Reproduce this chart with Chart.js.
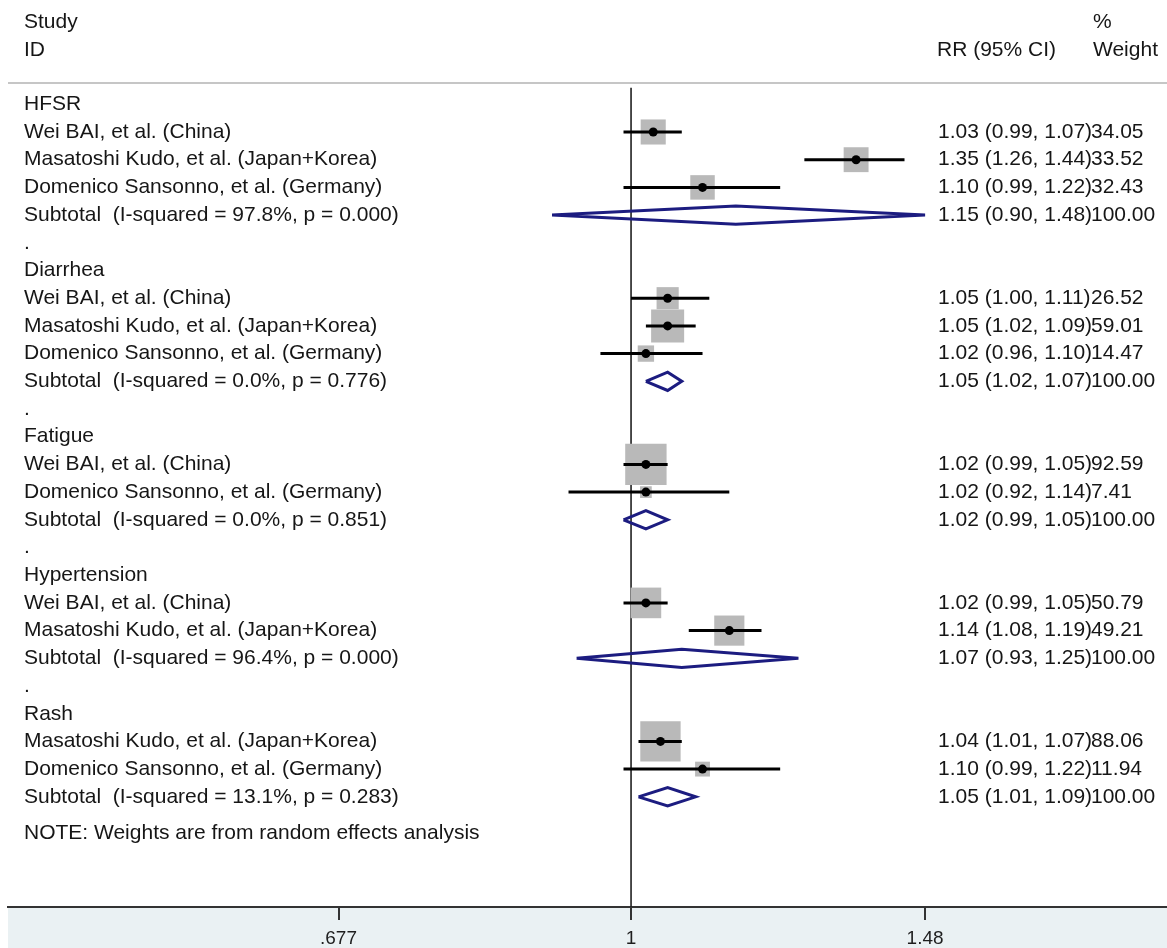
<!DOCTYPE html>
<html>
<head>
<meta charset="utf-8">
<script src="https://cdn.jsdelivr.net/npm/chart.js@4.4.0/dist/chart.umd.min.js"></script>
<style>
  body { margin: 0; background: #fff; }
  #wrap { width: 1167px; height: 948px; }
</style>
</head>
<body>
<div id="wrap"><canvas id="forest" width="1167" height="948"></canvas></div>
<script>
// rows of the forest plot, top to bottom
const studyLabels = [
    'HFSR',
    'Wei BAI, et al. (China)',
    'Masatoshi Kudo, et al. (Japan+Korea)',
    'Domenico Sansonno, et al. (Germany)',
    'Subtotal  (I-squared = 97.8%, p = 0.000)',
    '.',
    'Diarrhea',
    'Wei BAI, et al. (China)',
    'Masatoshi Kudo, et al. (Japan+Korea)',
    'Domenico Sansonno, et al. (Germany)',
    'Subtotal  (I-squared = 0.0%, p = 0.776)',
    '.',
    'Fatigue',
    'Wei BAI, et al. (China)',
    'Domenico Sansonno, et al. (Germany)',
    'Subtotal  (I-squared = 0.0%, p = 0.851)',
    '.',
    'Hypertension',
    'Wei BAI, et al. (China)',
    'Masatoshi Kudo, et al. (Japan+Korea)',
    'Subtotal  (I-squared = 96.4%, p = 0.000)',
    '.',
    'Rash',
    'Masatoshi Kudo, et al. (Japan+Korea)',
    'Domenico Sansonno, et al. (Germany)',
    'Subtotal  (I-squared = 13.1%, p = 0.283)'
];
// s = study, t = subtotal, g = group heading, b = blank
const rowKind = ['g','s','s','s','t','b','g','s','s','s','t','b','g','s','s','t','b','g','s','s','t','b','g','s','s','t'];
const rr     = [null,1.03,1.35,1.10,1.15,null,null,1.05,1.05,1.02,1.05,null,null,1.02,1.02,1.02,null,null,1.02,1.14,1.07,null,null,1.04,1.10,1.05];
const ciLow  = [null,0.99,1.26,0.99,0.90,null,null,1.00,1.02,0.96,1.02,null,null,0.99,0.92,0.99,null,null,0.99,1.08,0.93,null,null,1.01,0.99,1.01];
const ciHigh = [null,1.07,1.44,1.22,1.48,null,null,1.11,1.09,1.10,1.07,null,null,1.05,1.14,1.05,null,null,1.05,1.19,1.25,null,null,1.07,1.22,1.09];
const weights = [null,34.05,33.52,32.43,100,null,null,26.52,59.01,14.47,100,null,null,92.59,7.41,100,null,null,50.79,49.21,100,null,null,88.06,11.94,100];

const tickValues = [0.677, 1, 1.48];
const tickLabels = ['.677', '1', '1.48'];

const noteText = 'NOTE: Weights are from random effects analysis';

// scale ranges (rows on y, log RR on x)
const xMin = 0.4357, xMax = 2.0435;
const yMin = -3.765, yMax = 28.978;

const FONT = '"Liberation Sans", Arial, sans-serif';
const TEXT = '#161616';
const NAVY = '#1c1c80';

const studyIdx = rowKind.map((k, i) => k === 's' ? i : -1).filter(i => i >= 0);
const subIdx = rowKind.map((k, i) => k === 't' ? i : -1).filter(i => i >= 0);

// CI segments, gaps in between
const ciData = [];
studyIdx.forEach(i => {
    ciData.push({x: ciLow[i], y: i}, {x: ciHigh[i], y: i}, {x: NaN, y: NaN});
});

// subtotal diamonds
const diamondData = [];
subIdx.forEach(i => {
    const h = 0.33;
    diamondData.push(
        {x: ciLow[i], y: i}, {x: rr[i], y: i - h},
        {x: ciHigh[i], y: i}, {x: rr[i], y: i + h},
        {x: ciLow[i], y: i}, {x: NaN, y: NaN}
    );
});

const pointData = studyIdx.map(i => ({x: rr[i], y: i}));
const boxRadius = studyIdx.map(i => 3.04 * Math.sqrt(weights[i]));

const fmt = v => v.toFixed(2);

const forestText = {
    id: 'forestText',
    beforeDraw(chart) {
        const {ctx, chartArea} = chart;
        const ys = chart.scales.y;
        ctx.save();
        // axis strip background
        ctx.fillStyle = '#eaf1f3';
        ctx.fillRect(8, chartArea.bottom, chart.width - 8, chart.height - chartArea.bottom);
        // header separator
        ctx.strokeStyle = '#c6c6c6';
        ctx.lineWidth = 2;
        ctx.beginPath();
        ctx.moveTo(8, ys.getPixelForValue(-0.77));
        ctx.lineTo(chart.width, ys.getPixelForValue(-0.77));
        ctx.stroke();
        ctx.restore();
    },
    afterDraw(chart) {
        const {ctx} = chart;
        const ys = chart.scales.y;
        ctx.save();
        ctx.fillStyle = TEXT;
        ctx.textBaseline = 'middle';
        ctx.font = '21px ' + FONT;
        ctx.textAlign = 'left';
        // header
        ctx.fillText('Study', 24, ys.getPixelForValue(-2.95));
        ctx.fillText('ID', 24, ys.getPixelForValue(-1.95));
        ctx.fillText('RR (95% CI)', 937, ys.getPixelForValue(-1.95));
        ctx.fillText('%', 1093, ys.getPixelForValue(-2.95));
        ctx.fillText('Weight', 1093, ys.getPixelForValue(-1.95));
        // rows
        studyLabels.forEach((lab, i) => {
            const y = ys.getPixelForValue(i);
            ctx.fillText(lab, 24, y);
            if (rr[i] !== null) {
                ctx.fillText(fmt(rr[i]) + ' (' + fmt(ciLow[i]) + ', ' + fmt(ciHigh[i]) + ')', 938, y);
                ctx.fillText(fmt(weights[i]), 1091, y);
            }
        });
        ctx.fillText(noteText, 24, ys.getPixelForValue(26.3));
        ctx.restore();
    }
};

new Chart(document.getElementById('forest'), {
    type: 'scatter',
    data: {
        datasets: [
            {
                // reference line at RR = 1
                data: [{x: 1, y: -0.6}, {x: 1, y: yMax}],
                showLine: true,
                borderColor: '#222',
                borderWidth: 1.6,
                pointRadius: 0,
                order: 10
            },
            {
                // weight boxes
                data: pointData,
                pointStyle: 'rect',
                pointRadius: boxRadius,
                backgroundColor: '#b9b9b9',
                borderColor: '#b9b9b9',
                borderWidth: 0,
                order: 8
            },
            {
                data: ciData,
                showLine: true,
                spanGaps: false,
                borderColor: '#000',
                borderWidth: 3,
                pointRadius: 0,
                order: 6
            },
            {
                data: pointData,
                pointStyle: 'circle',
                pointRadius: 4.5,
                backgroundColor: '#000',
                borderWidth: 0,
                order: 4
            },
            {
                data: diamondData,
                showLine: true,
                spanGaps: false,
                borderColor: NAVY,
                borderWidth: 3,
                fill: false,
                pointRadius: 0,
                order: 2
            }
        ]
    },
    options: {
        responsive: false,
        animation: false,
        layout: { autoPadding: false, padding: { left: 8, right: 0, top: 0, bottom: 0 } },
        scales: {
            x: {
                type: 'logarithmic',
                min: xMin,
                max: xMax,
                afterBuildTicks: s => { s.ticks = tickValues.map(v => ({value: v})); },
                afterFit: s => { s.height = 41; s.paddingLeft = 0; s.paddingRight = 0; },
                ticks: {
                    autoSkip: false,
                    maxRotation: 0,
                    padding: 7,
                    color: '#1e1e1e',
                    font: { family: FONT, size: 19 },
                    callback: (v, i) => tickLabels[i]
                },
                grid: { drawOnChartArea: false, drawTicks: true, tickLength: 13, color: '#333', lineWidth: 2 },
                border: { display: true, color: '#333', width: 2 }
            },
            y: {
                type: 'linear',
                display: false,
                reverse: true,
                min: yMin,
                max: yMax
            }
        },
        plugins: {
            legend: { display: false },
            tooltip: { enabled: false }
        }
    },
    plugins: [forestText]
});
</script>
</body>
</html>
